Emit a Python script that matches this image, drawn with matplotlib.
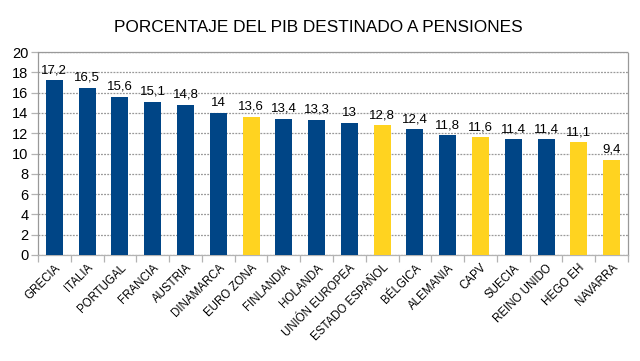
import matplotlib
matplotlib.use("Agg")
import matplotlib.pyplot as plt
import numpy as np

categories = ["GRECIA", "ITALIA", "PORTUGAL", "FRANCIA", "AUSTRIA", "DINAMARCA",
              "EURO ZONA", "FINLANDIA", "HOLANDA", "UNIÓN EUROPEA", "ESTADO ESPAÑOL",
              "BÉLGICA", "ALEMANIA", "CAPV", "SUECIA", "REINO UNIDO", "HEGO EH", "NAVARRA"]
values = [17.2, 16.5, 15.6, 15.1, 14.8, 14, 13.6, 13.4, 13.3, 13, 12.8, 12.4,
          11.8, 11.6, 11.4, 11.4, 11.1, 9.4]
highlight = ["EURO ZONA", "ESTADO ESPAÑOL", "CAPV", "HEGO EH", "NAVARRA"]
yticks = list(range(0, 21, 2))
title = "PORCENTAJE DEL PIB DESTINADO A PENSIONES"

BLUE = "#004586"
YELLOW = "#ffd320"

plt.rcParams['font.family'] = ['Liberation Sans', 'DejaVu Sans']

fig = plt.figure(figsize=(6.4, 3.61), dpi=100)
ax = fig.add_axes([38/640, 1-255/361, 590/640, 203/361])

x = np.arange(len(categories))
colors = [YELLOW if c in highlight else BLUE for c in categories]
ax.bar(x, values, width=0.52, color=colors, zorder=3)

for xi, v in zip(x, values):
    ax.text(xi, v + 0.4, f"{v:g}".replace(".", ","), ha="center", va="bottom",
            fontsize=9.5, zorder=4)

ax.set_xlim(-0.5, len(categories) - 0.5)
ax.set_ylim(0, 20)
ax.set_yticks(yticks)
ax.set_yticklabels([str(t) for t in yticks], fontsize=10.5)
ax.yaxis.grid(True, color="#999999", linestyle=(0, (1.5, 1)), linewidth=0.9, zorder=0)

ax.set_xticks(x)
ax.set_xticklabels(categories, rotation=45, ha="right", rotation_mode="anchor", fontsize=8.3)
ax.tick_params(axis="x", length=0, pad=5)
ax.set_xticks(np.arange(-0.5, len(categories)), minor=True)
ax.tick_params(axis="x", which="minor", length=5, color="#b3b3b3", width=0.9)
ax.tick_params(axis="y", length=5, color="#b3b3b3", width=0.9, pad=2)

for side in ["top", "right", "left"]:
    ax.spines[side].set_color("#999999")
    ax.spines[side].set_linestyle((0, (1.5, 1)))
    ax.spines[side].set_linewidth(0.9)
ax.spines["bottom"].set_color("#b3b3b3")
ax.spines["bottom"].set_linewidth(0.9)

fig.text(318/640, 1-28/361, title, ha="center", va="center", fontsize=12.4)

fig.savefig("out.png", dpi=100)
